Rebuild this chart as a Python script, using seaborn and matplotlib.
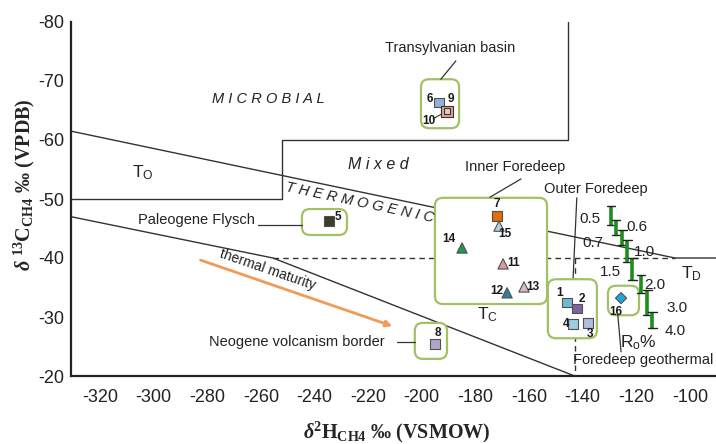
import numpy as np
import pandas as pd
import seaborn as sns
import matplotlib.pyplot as plt
from matplotlib.patches import FancyBboxPatch

# samples (dD vs d13C of methane)
sample_id = [str(i) for i in range(1, 17)]
d2H = [-145.9, -142.2, -138.1, -143.6, -234.6, -193.6, -172.0, -195.1,
       -190.6, -190.6, -169.7, -168.2, -161.9, -185.0, -171.2, -125.7]
d13C = [-32.5, -31.4, -29.0, -28.8, -46.3, -66.4, -47.1, -25.4,
        -64.9, -64.9, -39.0, -34.1, -35.1, -41.7, -45.4, -33.2]
shape = ['sq'] * 10 + ['tri'] * 5 + ['dia']
size_class = ['sq'] * 8 + ['big', 'small'] + ['tri'] * 5 + ['dia']
fill = ['#6FB9D2', '#7F62A1', '#AEBEDC', '#9DCEDF', '#3F3C28', '#93B0D8',
        '#E46C0A', '#B3A5C9', '#CDAEA5', '#E3CEC6', '#D99A98', '#2F7F96',
        '#D8BDBC', '#1F9A4C', '#AFD2E2', '#1BA6DC']
edge = ['#505050'] * 8 + ['#4A2E24', '#4A2E24'] + ['#505050'] * 6

# label offsets of the sample numbers (pixels)
lab_dx = [-7, 5, 2, -7, 9, -9, 0, 3, 4, -18, 11, -10, 9, -13, 6, -5]
lab_dy = [9, 10, -11, 0, 4, 3, 12, 11, 12, -10, 1, 2, 0, 9, -8, -14]

# genetic field boundaries
upper_x = [-330.8, -105.6, -90.3]
upper_y = [-61.5, -40.0, -40.0]
lower_x = [-330.8, -255.5, -143.0]
lower_y = [-47.0, -40.0, -20.0]
microbial_x = [-330.8, -252.1, -252.1, -145.5, -145.5]
microbial_y = [-50.0, -50.0, -60.0, -60.0, -80.0]

# group boxes: x0, x1, y0, y1
boxes = {
    'Transylvanian basin': (-200.3, -186.1, -70.3, -62.0),
    'Paleogene Flysch': (-244.7, -227.9, -48.3, -43.9),
    'Inner Foredeep': (-195.1, -153.3, -50.2, -32.2),
    'Outer Foredeep': (-153.0, -134.7, -36.4, -26.4),
    'Foredeep geothermal': (-130.6, -119.0, -35.3, -30.3),
    'Neogene volcanism border': (-202.6, -190.6, -29.0, -22.9),
}

# vitrinite reflectance scale
ro_seg_x = [-129.5, -127.6, -125.2, -123.3, -121.5, -118.3, -115.9, -114.0]
ro_seg_top = [-48.8, -46.4, -44.7, -43.1, -40.0, -37.1, -34.6, -30.8]
ro_seg_bot = [-45.6, -43.9, -42.2, -39.3, -36.3, -34.1, -30.3, -28.1]
ro_labels = ['0.5', '0.6', '0.7', '1.0', '1.5', '2.0', '3.0', '4.0']
ro_lab_x = [-137.3, -119.8, -136.2, -116.8, -129.8, -113.1, -104.9, -105.6]
ro_lab_y = [-46.6, -45.3, -42.5, -41.0, -37.6, -35.4, -31.5, -27.6]

df = pd.DataFrame({'id': sample_id, 'dH': d2H, 'dC': d13C,
                   'shape': shape, 'sz': size_class})

sns.set_style('white')
plt.rcParams['font.family'] = ['Liberation Sans', 'DejaVu Sans']
plt.rcParams['axes.unicode_minus'] = False
plt.rcParams['mathtext.fontset'] = 'custom'
plt.rcParams['mathtext.rm'] = 'Liberation Serif'
plt.rcParams['mathtext.it'] = 'Liberation Serif:italic'
plt.rcParams['mathtext.bf'] = 'Liberation Serif:bold'
plt.rcParams['mathtext.sf'] = 'Liberation Sans'
try:
    plt.rcParams['mathtext.bfit'] = 'Liberation Serif:italic:bold'
except KeyError:
    pass

fig = plt.figure(figsize=(7.16, 4.44), dpi=100)
ax = fig.add_axes([71 / 716, 68 / 444, 645 / 716, 354 / 444])
ax.set_xlim(-330.8, -90.3)
ax.set_ylim(-20, -80)

line_kw = dict(color='#333333', lw=1.0, zorder=1)
ax.plot(upper_x, upper_y, **line_kw)
ax.plot(lower_x, lower_y, **line_kw)
ax.plot(microbial_x, microbial_y, **line_kw)
ax.plot([lower_x[1], upper_x[1]], [-40, -40], color='#333333', lw=1.0, ls=(0, (4, 3)), zorder=1)
ax.plot([-143.0, -143.0], [-40, -20], color='#333333', lw=1.0, ls=(0, (4, 3)), zorder=1)

for name, (x0, x1, y0, y1) in boxes.items():
    ax.add_patch(FancyBboxPatch((x0, y0), x1 - x0, y1 - y0,
                                boxstyle='round,pad=0,rounding_size=3.0',
                                mutation_aspect=0.45, fc='white', ec='#A2C165',
                                lw=1.6, zorder=2))

sns.scatterplot(data=df, x='dH', y='dC', hue='id', style='shape', size='sz',
                palette=dict(zip(sample_id, fill)),
                markers={'sq': 's', 'tri': '^', 'dia': 'D'},
                sizes={'sq': 46, 'big': 64, 'small': 14, 'tri': 55, 'dia': 32},
                edgecolor=edge, linewidth=0.8, legend=False, zorder=5, ax=ax)

for i, sid in enumerate(sample_id):
    ax.annotate(sid, (d2H[i], d13C[i]), xytext=(lab_dx[i], lab_dy[i]),
                textcoords='offset pixels', ha='center', va='center',
                fontsize=8.5, fontweight='bold', color='#1a1a1a', zorder=6)
ax.plot([-195.8, -190.6], [-63.6, -64.9], color='#333333', lw=0.8, zorder=4)

# group labels and leaders
txt = dict(fontsize=10.5, color='#222222', ha='center', va='center')
ax.text(-189.5, -75.6, 'Transylvanian basin', **txt)
ax.plot([-187.3, -192.9], [-73.4, -70.3], color='#333333', lw=0.9)
ax.text(-284.2, -46.4, 'Paleogene Flysch', **txt)
ax.plot([-261.1, -244.7], [-45.6, -45.6], color='#333333', lw=0.9)
ax.text(-165.3, -55.4, 'Inner Foredeep', **txt)
ax.plot([-163.0, -174.6], [-53.4, -50.3], color='#333333', lw=0.9)
ax.text(-135.1, -51.7, 'Outer Foredeep', **txt)
ax.plot([-142.2, -143.6], [-50.2, -36.4], color='#333333', lw=0.9, zorder=1)
ax.text(-117.5, -22.7, 'Foredeep geothermal', **txt)
ax.plot([-126.9, -125.7], [-30.3, -24.1], color='#333333', lw=0.9)
ax.text(-246.5, -25.8, 'Neogene volcanism border', **txt)
ax.plot([-209.3, -202.6], [-25.8, -25.8], color='#333333', lw=0.9)

# field names
field = dict(fontsize=10.5, style='italic', color='#222222', ha='center', va='center')
ax.text(-257.4, -67.0, ' '.join('MICROBIAL'), **field)
ax.text(-216.3, -55.9, ' '.join('Mixed'), fontsize=11.5, style='italic',
        color='#222222', ha='center', va='center')
ax.text(-223.0, -49.3, ' '.join('THERMOGENIC'), rotation=-11.9,
        rotation_mode='anchor', **field)
tk = dict(fontsize=12.5, color='#222222', ha='center', va='center')
ax.text(-304.0, -54.4, r'T$_{\mathsf{O}}$', **tk)
ax.text(-175.5, -30.3, r'T$_{\mathsf{C}}$', **tk)
ax.text(-99.3, -37.3, r'T$_{\mathsf{D}}$', **tk)

# thermal maturity arrow
ax.annotate('', xy=(-210.0, -28.3), xytext=(-283.5, -39.8),
            arrowprops=dict(arrowstyle='-|>', color='#EE9C5A', lw=2.0,
                            mutation_scale=9))
ax.text(-257.4, -38.0, 'thermal maturity', rotation=-19, rotation_mode='anchor',
        fontsize=10, color='#222222', ha='center', va='center')

# Ro scale
for x, t, b in zip(ro_seg_x, ro_seg_top, ro_seg_bot):
    ax.plot([x, x], [t, b], color='#1F8C1F', lw=2.6, zorder=3,
            solid_capstyle='butt')
    ax.plot([x - 1.6, x + 1.6], [t, t], color='#222222', lw=1.0, zorder=3)
    ax.plot([x - 1.6, x + 1.6], [b, b], color='#222222', lw=1.0, zorder=3)
for s, x, y in zip(ro_labels, ro_lab_x, ro_lab_y):
    ax.text(x, y, s, fontsize=11, color='#222222', ha='center', va='center', zorder=3)
ax.text(-119.2, -25.7, r'R$_{\mathsf{o}}$%', fontsize=12.5, color='#222222',
        ha='center', va='center')

ax.set_xticks(np.arange(-320, -99, 20))
ax.set_yticks(np.arange(-80, -19, 10))
ax.tick_params(axis='both', direction='in', labelsize=13, width=1.2,
               color='#222222', labelcolor='#222222')
ax.tick_params(axis='y', length=8, pad=5)
ax.tick_params(axis='x', length=8.5, pad=9)
for s in ['top', 'right']:
    ax.spines[s].set_visible(False)
for s in ['left', 'bottom']:
    ax.spines[s].set_linewidth(1.6)
    ax.spines[s].set_color('#222222')

ax.set_xlabel(r'$\boldsymbol{\delta}^{\mathbf{2}}\mathbf{H}_{\mathbf{CH4}}$ ‰ (VSMOW)',
              fontsize=14.5, fontweight='bold', family='Liberation Serif', va='center')
ax.set_ylabel(r'$\boldsymbol{\delta}\ ^{\mathbf{13}}\mathbf{C}_{\mathbf{CH4}}$ ‰ (VPDB)',
              fontsize=14.5, fontweight='bold', family='Liberation Serif', va='center')
ax.xaxis.set_label_coords(0.505, -0.158)
ax.yaxis.set_label_coords(-0.072, 0.54)

fig.savefig('out.png', dpi=100)
